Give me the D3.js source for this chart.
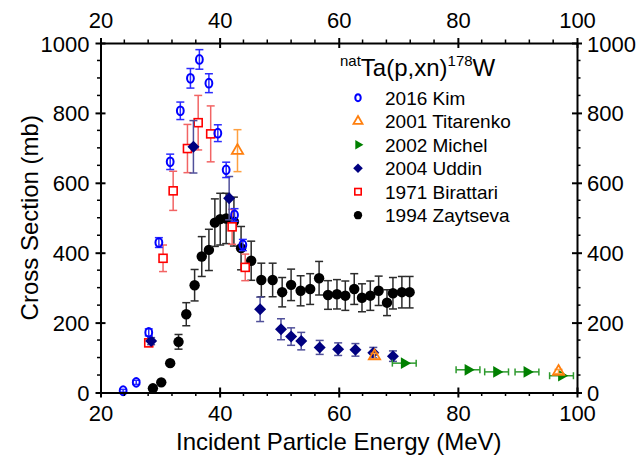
<!DOCTYPE html>
<html>
<head>
<meta charset="utf-8">
<script src="https://cdn.jsdelivr.net/npm/d3@7"></script>
<style>
body { margin: 0; background: #fff; }
text { font-family: "Liberation Sans", Arial, sans-serif; fill: #000; }
</style>
</head>
<body>
<svg id="chart" width="639" height="457"></svg>
<script>
// 2016 Kim
var kimE   = [23.8, 26.0, 28.1, 29.8, 31.7, 33.4, 35.1, 36.6, 38.2, 39.7, 41.1, 42.5, 43.9];
var kimCS  = [5, 29, 172, 429, 660, 806, 899, 953, 885, 742, 637, 508, 422];
var kimErr = [4, 6, 10, 14, 22, 25, 28, 28, 27, 24, 22, 18, 16];

// 2001 Titarenko
var titE   = [43.0, 66.0, 96.9];
var titCS  = [692, 104, 60];
var titErr = [60, 8, 6];

// 2002 Michel (energy uncertainty)
var micE    = [71.0, 81.7, 86.5, 91.6, 97.4];
var micCS   = [84, 65, 59, 59, 48];
var micEErr = [2, 2, 2, 2, 2];

// 2004 Uddin
var uddE   = [28.5, 35.6, 41.6, 46.8, 50.3, 52.0, 53.7, 56.8, 59.9, 62.8, 65.8, 69.1];
var uddCS  = [147, 703, 556, 238, 181, 160, 147, 129, 124, 122, 114, 104];
var uddErr = [10, 75, 62, 35, 30, 25, 25, 20, 18, 18, 15, 15];

// 1971 Birattari
var birE   = [28.1, 30.5, 32.2, 34.6, 36.4, 38.5, 42.1, 44.3];
var birCS  = [142, 384, 577, 698, 772, 740, 474, 358];
var birErr = [10, 38, 56, 69, 78, 80, 50, 38];

// 1994 Zaytseva
var zayE   = [28.8, 30.2, 31.7, 33.1, 34.4, 35.8, 37.0, 38.2, 39.2, 40.1, 41.1, 42.4, 43.6, 45.3, 47.0, 48.9,
              50.5, 52.0, 53.6, 55.2, 56.7, 58.2, 59.7, 61.1, 62.6, 63.9, 65.3, 66.7, 68.1, 69.1, 70.6, 71.9];
var zayCS  = [12, 29, 84, 145, 224, 307, 389, 408, 486, 496, 498, 489, 413, 377, 322, 322,
              287, 308, 291, 296, 327, 279, 281, 277, 296, 271, 277, 291, 257, 284, 287, 287];
var zayErr = [0, 0, 0, 21, 33, 45, 57, 59, 68, 74, 72, 70, 62, 56, 48, 48,
              42, 45, 43, 44, 48, 41, 42, 42, 44, 40, 42, 42, 37, 45, 45, 45];

var xTicks = [20, 40, 60, 80, 100];
var yTicks = [0, 200, 400, 600, 800, 1000];
var legendNames = ["2016 Kim", "2001 Titarenko", "2002 Michel", "2004 Uddin", "1971 Birattari", "1994 Zaytseva"];

var svg = d3.select("#chart");
var x = d3.scaleLinear().domain([20, 100]).range([100.5, 577]);
var y = d3.scaleLinear().domain([0, 1000]).range([392.5, 43]);

var xMinor = d3.range(20, 101, 4).filter(function(v){ return v % 20 !== 0; });
var yMinor = d3.range(0, 1001, 50).filter(function(v){ return v % 200 !== 0; });

// marker shapes
function marker(g, kind, s) {
  if (kind == "kim") {
    g.append("ellipse").attr("rx", 3.4 * s).attr("ry", 4.4 * s)
      .attr("fill", "none").attr("stroke", "#0000ff").attr("stroke-width", 2);
  } else if (kind == "tit") {
    g.append("path").attr("d", d3.symbol(d3.symbolTriangle, 55 * s * s))
      .attr("fill", "none").attr("stroke", "#ff7f0e").attr("stroke-width", 1.8);
  } else if (kind == "mic") {
    g.append("path").attr("d", d3.symbol(d3.symbolTriangle, 60 * s * s))
      .attr("transform", "rotate(90)").attr("fill", "#008000");
  } else if (kind == "udd") {
    var r = 6 * s;
    g.append("path").attr("d", "M0," + (-r) + "L" + r + ",0L0," + r + "L" + (-r) + ",0Z")
      .attr("fill", "#000080");
  } else if (kind == "bir") {
    var h = 4 * s;
    g.append("rect").attr("x", -h).attr("y", -h).attr("width", 2 * h).attr("height", 2 * h)
      .attr("fill", "#fff").attr("stroke", "#ff0000").attr("stroke-width", 1.6);
  } else if (kind == "zay") {
    g.append("circle").attr("r", 5.2 * s).attr("fill", "#000");
  }
}

function drawSeries(E, CS, err, eErr, kind, barColor) {
  var g = svg.append("g");
  E.forEach(function(e, i) {
    var px = x(e), py = y(CS[i]);
    var bars = g.append("g").attr("stroke", barColor).attr("stroke-width", 1.5);
    if (err && err[i] > 0) {
      var y1 = y(CS[i] + err[i]), y2 = y(CS[i] - err[i]);
      bars.append("line").attr("x1", px).attr("x2", px).attr("y1", y1).attr("y2", y2);
      bars.append("line").attr("x1", px - 4).attr("x2", px + 4).attr("y1", y1).attr("y2", y1);
      bars.append("line").attr("x1", px - 4).attr("x2", px + 4).attr("y1", y2).attr("y2", y2);
    }
    if (eErr && eErr[i] > 0) {
      var x1 = x(e - eErr[i]), x2 = x(e + eErr[i]);
      bars.append("line").attr("x1", x1).attr("x2", x2).attr("y1", py).attr("y2", py);
      bars.append("line").attr("x1", x1).attr("x2", x1).attr("y1", py - 3.5).attr("y2", py + 3.5);
      bars.append("line").attr("x1", x2).attr("x2", x2).attr("y1", py - 3.5).attr("y2", py + 3.5);
    }
    marker(g.append("g").attr("transform", "translate(" + px + "," + py + ")"), kind, 1);
  });
}

// draw order: last legend entry at the bottom
drawSeries(zayE, zayCS, zayErr, null, "zay", "#2b2b2b");
drawSeries(birE, birCS, birErr, null, "bir", "#f26464");
drawSeries(uddE, uddCS, uddErr, null, "udd", "#50509a");
drawSeries(micE, micCS, null, micEErr, "mic", "#2e9a2e");
drawSeries(titE, titCS, titErr, null, "tit", "#ffa040");
drawSeries(kimE, kimCS, kimErr, null, "kim", "#2b2bff");

// axes
var fmt = d3.format("d");
function styleAxis(g, horizontal) {
  g.select(".domain").attr("stroke", "#000").attr("stroke-width", 2);
  g.selectAll(".tick line").attr("stroke", "#000").attr("stroke-width", 2);
  if (horizontal) g.selectAll(".tick line").attr("y1", -5).attr("y2", 5);
  else g.selectAll(".tick line").attr("x1", -5).attr("x2", 5);
  g.selectAll(".tick text").attr("font-size", 22).attr("font-family", "Liberation Sans, Arial, sans-serif");
}

function minorTicks(g, vals, scale, horizontal, outSign) {
  g.selectAll(".minor").data(vals).enter().append("line")
    .attr("stroke", "#000").attr("stroke-width", 1.5)
    .attr("x1", function(d){ return horizontal ? scale(d) : 0; })
    .attr("x2", function(d){ return horizontal ? scale(d) : 3.5 * outSign; })
    .attr("y1", function(d){ return horizontal ? 0 : scale(d); })
    .attr("y2", function(d){ return horizontal ? 3.5 * outSign : scale(d); });
}

var gB = svg.append("g").attr("transform", "translate(0," + y(0) + ")")
  .call(d3.axisBottom(x).tickValues(xTicks).tickFormat(fmt).tickSizeOuter(0));
styleAxis(gB, true);
gB.selectAll(".tick text").attr("dy", null).attr("y", 28);
minorTicks(gB, xMinor, x, true, 1);

var gT = svg.append("g").attr("transform", "translate(0," + y(1000) + ")")
  .call(d3.axisTop(x).tickValues(xTicks).tickFormat(fmt).tickSizeOuter(0));
styleAxis(gT, true);
gT.selectAll(".tick text").attr("dy", null).attr("y", -15);
minorTicks(gT, xMinor, x, true, -1);

var gL = svg.append("g").attr("transform", "translate(" + x(20) + ",0)")
  .call(d3.axisLeft(y).tickValues(yTicks).tickFormat(fmt).tickSizeOuter(0));
styleAxis(gL, false);
gL.selectAll(".tick text").attr("dy", null).attr("y", 8).attr("x", -11);
minorTicks(gL, yMinor, y, false, -1);

var gR = svg.append("g").attr("transform", "translate(" + x(100) + ",0)")
  .call(d3.axisRight(y).tickValues(yTicks).tickFormat(fmt).tickSizeOuter(0));
styleAxis(gR, false);
gR.selectAll(".tick text").attr("dy", null).attr("y", 8).attr("x", 10);
minorTicks(gR, yMinor, y, false, 1);

// axis titles
svg.append("text")
  .attr("x", (x(20) + x(100)) / 2).attr("y", 450)
  .attr("text-anchor", "middle").attr("font-size", 24)
  .text("Incident Particle Energy (MeV)");

svg.append("text")
  .attr("transform", "translate(38," + ((y(0) + y(1000)) / 2) + ") rotate(-90)")
  .attr("text-anchor", "middle").attr("font-size", 24)
  .text("Cross Section (mb)");

// legend
var title = svg.append("text").attr("x", 340).attr("y", 76);
title.append("tspan").attr("font-size", 15).attr("dy", -10).text("nat");
title.append("tspan").attr("font-size", 24).attr("dy", 10).text("Ta(p,xn)");
title.append("tspan").attr("font-size", 15).attr("dy", -10).text("178");
title.append("tspan").attr("font-size", 24).attr("dy", 10).text("W");

var kinds = ["kim", "tit", "mic", "udd", "bir", "zay"];
var leg = svg.append("g").selectAll("g").data(legendNames).enter().append("g")
  .attr("transform", function(d, i){ return "translate(358," + (97.7 + i * 23.5) + ")"; });
leg.each(function(d, i){ marker(d3.select(this), kinds[i], 0.8); });
leg.append("text").attr("x", 27).attr("y", 7).attr("font-size", 19).text(function(d){ return d; });
</script>
</body>
</html>
